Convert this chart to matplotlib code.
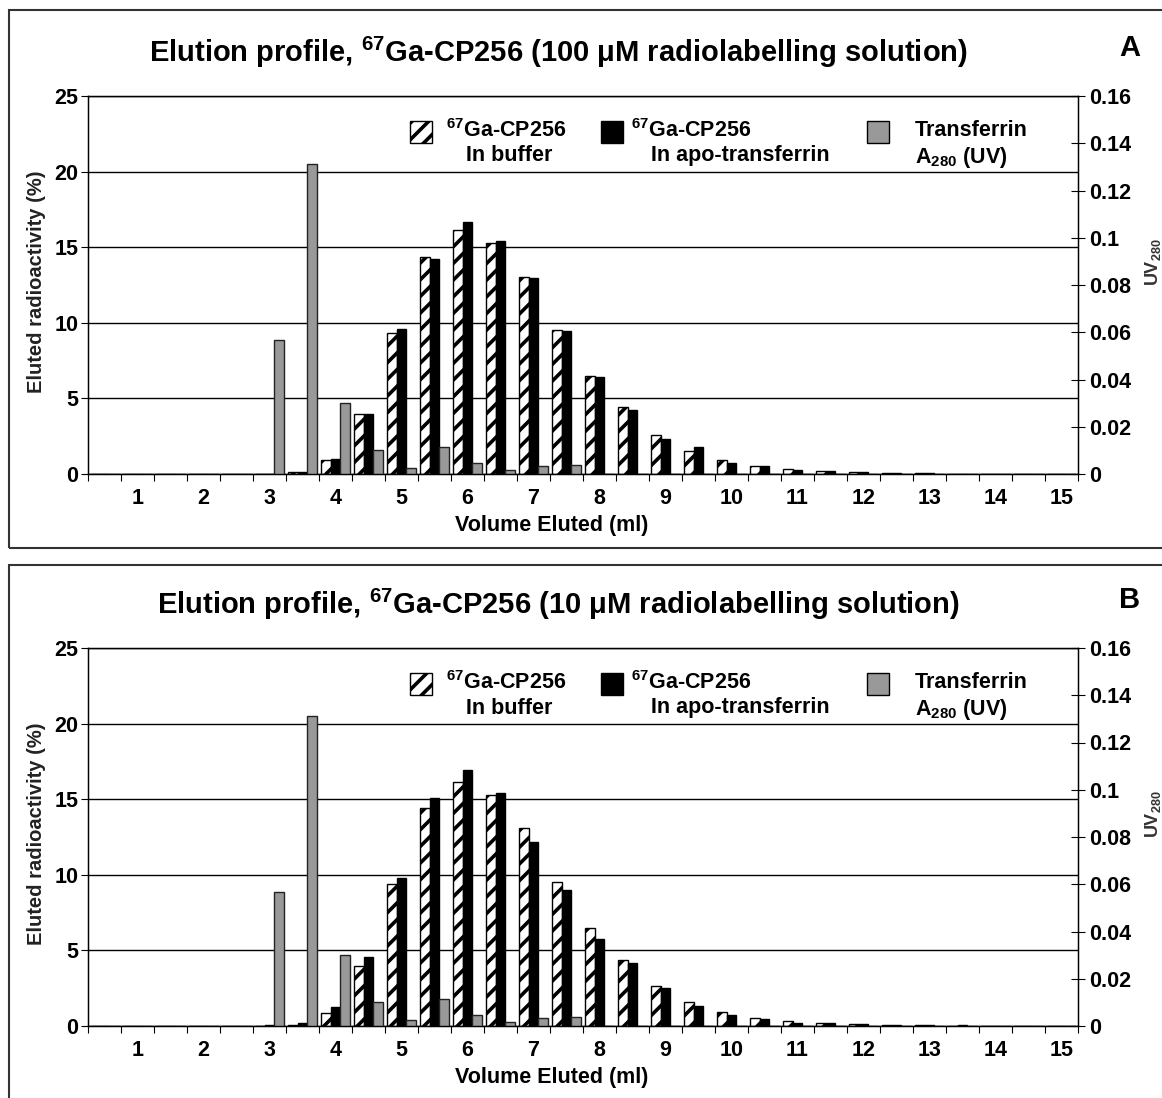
import matplotlib
matplotlib.use('Agg')
import matplotlib.pyplot as plt
from matplotlib.patches import Rectangle
import numpy as np

# ------------------------------------------------------------------ #
# Data                                        #
# ------------------------------------------------------------------ #
volume_ml = [0.5, 1.0, 1.5, 2.0, 2.5, 3.0, 3.5, 4.0, 4.5, 5.0,
             5.5, 6.0, 6.5, 7.0, 7.5, 8.0, 8.5, 9.0, 9.5, 10.0,
             10.5, 11.0, 11.5, 12.0, 12.5, 13.0, 13.5, 14.0, 14.5, 15.0]

# panel A: 100 uM radiolabelling solution (% eluted radioactivity)
buffer_100 = [0, 0, 0, 0, 0, 0, 0.1, 0.9, 4.0, 9.35,
              14.35, 16.15, 15.3, 13.0, 9.5, 6.5, 4.45, 2.6, 1.55, 0.9,
              0.5, 0.33, 0.18, 0.1, 0.05, 0.07, 0, 0, 0, 0]
apo_100 = [0, 0, 0, 0, 0, 0, 0.1, 1.0, 3.95, 9.6,
           14.25, 16.65, 15.4, 12.95, 9.45, 6.4, 4.25, 2.3, 1.8, 0.75,
           0.5, 0.25, 0.18, 0.1, 0.07, 0.07, 0, 0, 0, 0]

# panel B: 10 uM radiolabelling solution
buffer_10 = [0, 0, 0, 0, 0, 0, 0.05, 0.88, 4.0, 9.38,
             14.4, 16.15, 15.3, 13.1, 9.5, 6.5, 4.35, 2.65, 1.6, 0.92,
             0.5, 0.33, 0.18, 0.1, 0.07, 0.07, 0, 0, 0, 0]
apo_10 = [0, 0, 0, 0, 0, 0.07, 0.22, 1.23, 4.55, 9.8,
          15.05, 16.95, 15.4, 12.2, 9.0, 5.75, 4.15, 2.5, 1.35, 0.75,
          0.44, 0.18, 0.18, 0.1, 0.07, 0.07, 0.07, 0, 0, 0]

# transferrin A280 (right axis, same in both panels)
transferrin_uv = [0, 0, 0, 0, 0, 0.0566, 0.1312, 0.0299, 0.0100, 0.0027,
                  0.0115, 0.0048, 0.0015, 0.0032, 0.0036, 0, 0, 0, 0, 0,
                  0, 0, 0, 0, 0, 0, 0, 0, 0, 0]

left_ticks = [0, 5, 10, 15, 20, 25]
right_ticks = [0, 0.02, 0.04, 0.06, 0.08, 0.1, 0.12, 0.14, 0.16]

titles = ['Elution profile, $^{67}$Ga-CP256 (100 \u03bcM radiolabelling solution)',
          'Elution profile, $^{67}$Ga-CP256 (10 \u03bcM radiolabelling solution)']
letters = ['A', 'B']

# ------------------------------------------------------------------ #
# Style                                                                #
# ------------------------------------------------------------------ #
plt.rcParams['font.family'] = ['Liberation Sans', 'DejaVu Sans']
plt.rcParams['font.weight'] = 'bold'
plt.rcParams['mathtext.fontset'] = 'custom'
plt.rcParams['mathtext.rm'] = 'Liberation Sans:bold'
plt.rcParams['mathtext.it'] = 'Liberation Sans:bold'
plt.rcParams['mathtext.bf'] = 'Liberation Sans:bold'
plt.rcParams['mathtext.default'] = 'rm'
plt.rcParams['hatch.linewidth'] = 2.6

W, H = 1162, 1098
AX_L, AX_W, AX_H = 88, 990, 378
GRAY = '#999999'
FS = 15.5

fig = plt.figure(figsize=(W / 100, H / 100), dpi=100)


def fx(px):
    return px / W


def fy(py):
    return 1 - py / H


def draw_panel(top, title, letter, buf, apo, uv):
    ax = fig.add_axes([fx(AX_L), fy(top + AX_H), AX_W / W, AX_H / H])
    x = np.arange(len(volume_ml))
    bw = 0.29

    ax.bar(x - bw, buf, bw, color='white', edgecolor='black', hatch='//',
           linewidth=1, zorder=2)
    ax.bar(x, apo, bw, color='black', edgecolor='black', linewidth=1, zorder=2)

    ax.set_xlim(-0.5, len(volume_ml) - 0.5)
    ax.set_ylim(0, 25)
    ax.set_yticks(left_ticks)
    ax.yaxis.grid(True, color='black', linewidth=1)
    ax.set_axisbelow(True)
    ax.tick_params(axis='y', direction='out', length=5, labelsize=FS, pad=2)

    # category boundaries carry the ticks, every whole ml gets a label
    ax.set_xticks(np.arange(-0.5, len(volume_ml), 1))
    ax.set_xticklabels([])
    ax.set_xticks(x[1::2], minor=True)
    ax.set_xticklabels([f'{v:g}' for v in volume_ml[1::2]], minor=True)
    ax.tick_params(axis='x', which='major', direction='out', length=5)
    ax.tick_params(axis='x', which='minor', length=0, labelsize=FS, pad=10)
    for s in ax.spines.values():
        s.set_linewidth(1)

    ax2 = ax.twinx()
    ax2.bar(x + bw, uv, bw, color=GRAY, edgecolor='#222222', linewidth=1, zorder=2)
    ax2.set_ylim(0, 0.16)
    ax2.set_yticks(right_ticks)
    ax2.set_yticklabels([f'{v:g}' for v in right_ticks])
    ax2.tick_params(axis='y', direction='inout', length=10, labelsize=FS, pad=3)

    # titles and axis labels
    fig.text(fx(558), fy(top - 44), title, ha='center', va='center', fontsize=21)
    fig.text(fx(1130), fy(top - 48), letter, ha='center', va='center', fontsize=21)
    fig.text(fx(552), fy(top + AX_H + 52), 'Volume Eluted (ml)',
             ha='center', va='center', fontsize=FS)
    fig.text(fx(37), fy(top + 186), 'Eluted radioactivity (%)', rotation=90,
             ha='center', va='center', fontsize=14.5, color='#222222')
    fig.text(fx(1153), fy(top + 166), 'UV$_{280}$', rotation=90,
             ha='center', va='center', fontsize=13, color='#333333')

    # legend drawn by hand (three entries in a row)
    sq = 22
    for px, face, hatch in [(410, 'white', '//'), (601, 'black', None), (867, GRAY, None)]:
        fig.add_artist(Rectangle((fx(px), fy(top + 25 + sq)), sq / W, sq / H,
                                 transform=fig.transFigure, facecolor=face,
                                 edgecolor='black', linewidth=1, hatch=hatch))
    lg = dict(ha='left', va='center', fontsize=FS)
    fig.text(fx(446), fy(top + 35), '$^{67}$Ga-CP256', **lg)
    fig.text(fx(466), fy(top + 60), 'In buffer', **lg)
    fig.text(fx(631), fy(top + 35), '$^{67}$Ga-CP256', **lg)
    fig.text(fx(651), fy(top + 60), 'In apo-transferrin', **lg)
    fig.text(fx(915), fy(top + 35), 'Transferrin', **lg)
    fig.text(fx(915), fy(top + 61), 'A$_{280}$ (UV)', **lg)
    return ax


draw_panel(96, titles[0], letters[0], buffer_100, apo_100, transferrin_uv)
draw_panel(648, titles[1], letters[1], buffer_10, apo_10, transferrin_uv)

# panel frames
fig.add_artist(Rectangle((fx(9), fy(548)), 1.0, (548 - 10) / H, transform=fig.transFigure,
                         fill=False, edgecolor='#333333', linewidth=1.5))
fig.add_artist(Rectangle((fx(9), -0.1), 1.0, fy(565) + 0.1, transform=fig.transFigure,
                         fill=False, edgecolor='#333333', linewidth=1.5))

fig.savefig('out.png', dpi=100)
